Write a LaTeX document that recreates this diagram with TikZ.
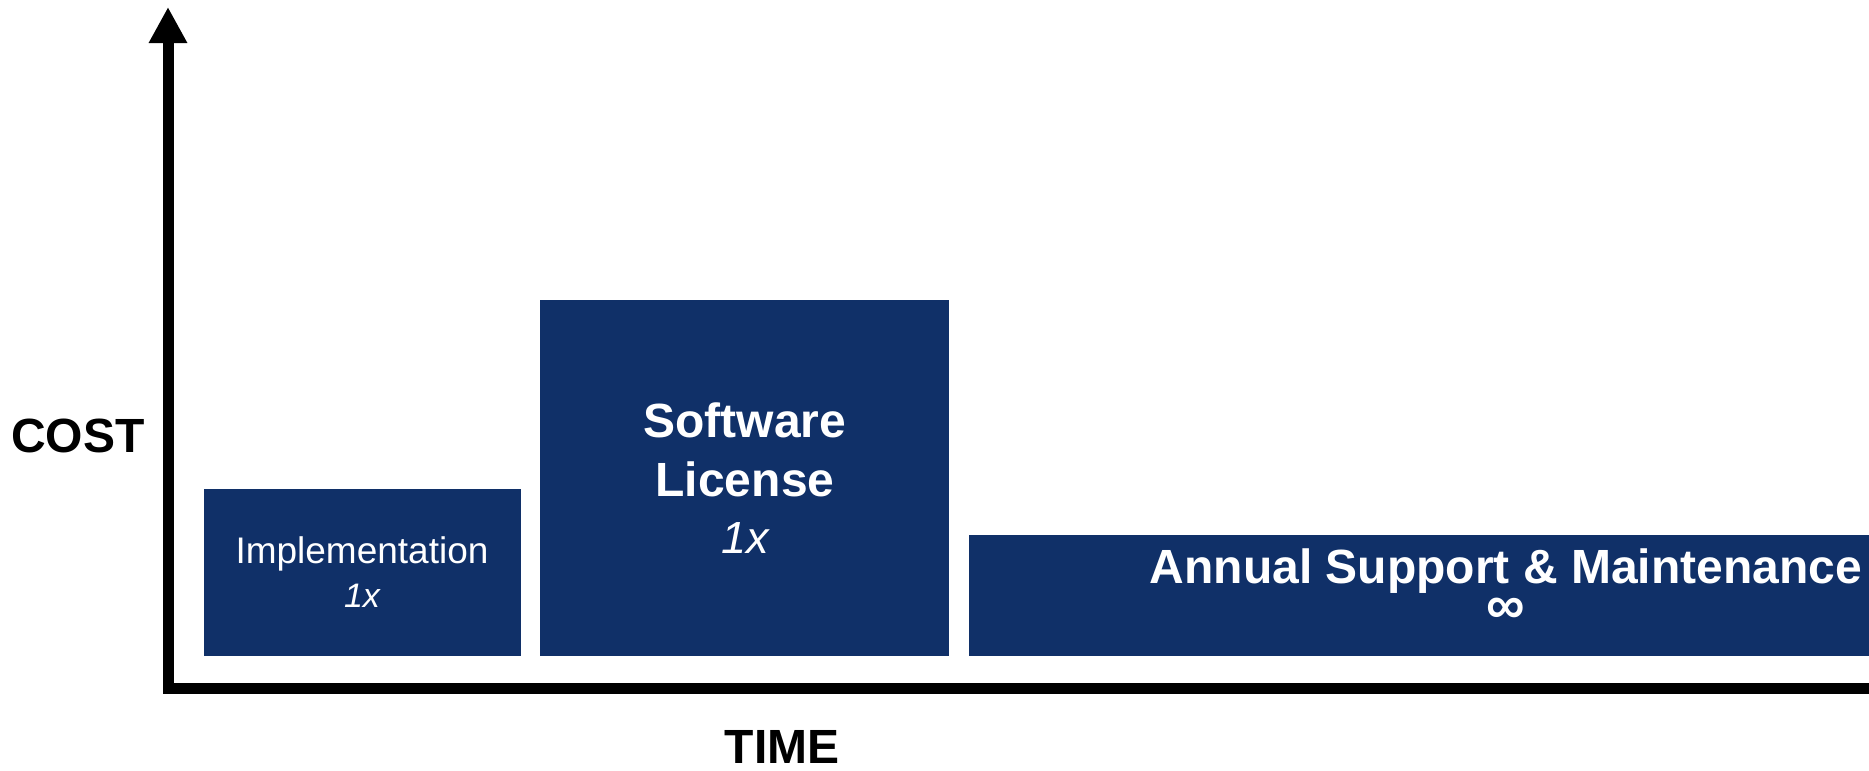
\documentclass[tikz,border=0pt]{standalone}
\usepackage{fontspec}
\setmainfont{Liberation Sans}
\usepackage{xcolor}
\usetikzlibrary{arrows.meta}
\definecolor{navy}{RGB}{16,48,104}
\tikzset{
  bar/.style={fill=navy},
  axis/.style={line width=5.5pt},
  big/.style={font=\fontsize{24}{29}\selectfont\bfseries},
  lbl/.style={anchor=base, inner sep=0pt},
  wlbl/.style={lbl, text=white},
}

\begin{document}
\begin{tikzpicture}[x=0.5pt,y=-0.5pt]
\useasboundingbox (0,0) rectangle (1869,771);
\coordinate (ybot) at (168,693);
\coordinate (ytop) at (168,7);
\coordinate (xstart) at (163,688);
\coordinate (xend) at (1880,688);
\draw[axis,-{Triangle[width=18pt,length=18pt]}] (ybot) -- (ytop);
\draw[axis] (xstart) -- (xend);
\fill[bar] (204,489) rectangle (521,656);
\fill[bar] (540,300) rectangle (949,656);
\fill[bar] (969,535) rectangle (1869,656);
\node[wlbl, font=\fontsize{18.5}{22}\selectfont] (impl) at (362,563) {Implementation};
\node[wlbl, font=\fontsize{17}{20}\selectfont\itshape] (implx) at (362,607) {1x};
\node[wlbl, big] (soft) at (745,437) {Software};
\node[wlbl, big] (lic) at (745,496) {License};
\node[wlbl, font=\fontsize{22.5}{27}\selectfont\itshape] (licx) at (745,553) {1x};
\node[wlbl, big] (asm) at (1506,583) {Annual Support \& Maintenance};
\node[text=white, inner sep=0pt, font=\fontsize{27}{30}\selectfont\bfseries] (inf) at (1506,611) {∞};
\node[lbl, big] (cost) at (78,452) {COST};
\node[lbl, big] (time) at (782,763) {TIME};
\end{tikzpicture}
\end{document}
